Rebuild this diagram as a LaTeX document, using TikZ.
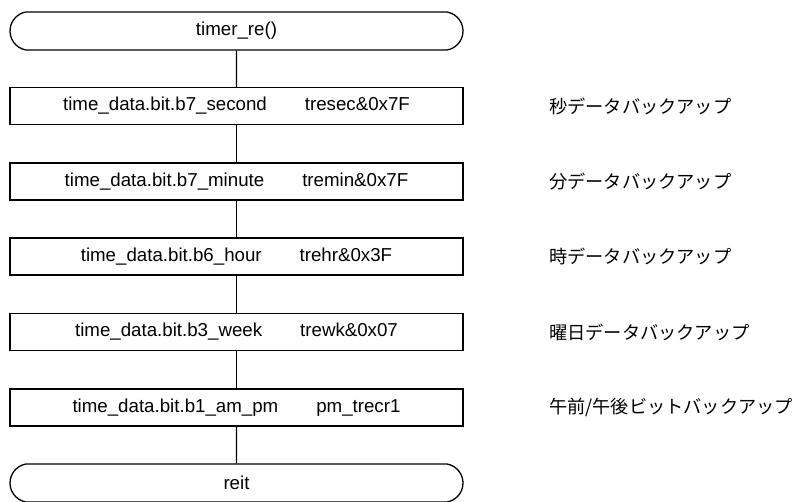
\documentclass[tikz,border=0pt]{standalone}
\usepackage{fontspec}
\setmainfont{Liberation Sans}
\newfontfamily\jp{Noto Sans CJK JP}
\usetikzlibrary{shapes.misc}
\begin{document}
\begin{tikzpicture}[x=1pt,y=-1pt,
  every node/.style={font=\fontsize{18.7}{20}\selectfont},
  term/.style={draw, line width=1.3pt, rounded rectangle, rounded rectangle arc length=160, minimum width=453pt, minimum height=38pt, inner sep=0pt},
  procbox/.style={draw, line width=1.3pt, rectangle, minimum width=453pt, minimum height=37pt, inner sep=0pt},
  note/.style={anchor=west, inner sep=0pt, font=\jp\fontsize{18.2}{20}\selectfont},
  conn/.style={line width=1.3pt}]
\useasboundingbox (0,0) rectangle (803,501);
\node[term] (start) at (236.5,31) {timer\_re()};
\node[procbox] (b1) at (236.5,106) {time\_data.bit.b7\_second\hspace{38pt}tresec\&0x7F};
\node[procbox] (b2) at (236.5,181.5) {time\_data.bit.b7\_minute\hspace{38pt}tremin\&0x7F};
\node[procbox] (b3) at (236.5,256.5) {time\_data.bit.b6\_hour\hspace{38pt}trehr\&0x3F};
\node[procbox] (b4) at (236.5,332) {time\_data.bit.b3\_week\hspace{38pt}trewk\&0x07};
\node[procbox] (b5) at (236.5,407.5) {time\_data.bit.b1\_am\_pm\hspace{38pt}pm\_trecr1};
\node[term] (end) at (236.5,483) {reit};
\draw[conn] (start) -- (b1);
\draw[conn] (b1) -- (b2);
\draw[conn] (b2) -- (b3);
\draw[conn] (b3) -- (b4);
\draw[conn] (b4) -- (b5);
\draw[conn] (b5) -- (end);
\node[note] (n1) at (549,106) {秒データバックアップ};
\node[note] (n2) at (549,181.5) {分データバックアップ};
\node[note] (n3) at (549,256.5) {時データバックアップ};
\node[note] (n4) at (549,332) {曜日データバックアップ};
\node[note] (n5) at (549,407.5) {午前/午後ビットバックアップ};
\end{tikzpicture}
\end{document}
